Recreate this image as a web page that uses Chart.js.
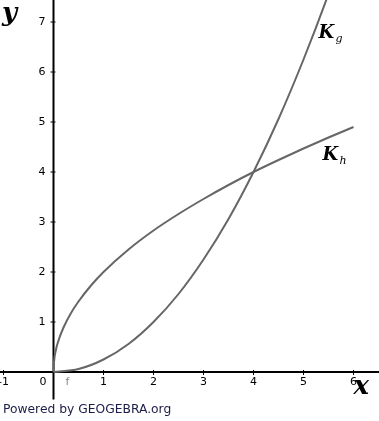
<!DOCTYPE html>
<html>
<head>
<meta charset="utf-8">
<script src="https://cdn.jsdelivr.net/npm/chart.js@4"></script>
<style>
  html, body { margin: 0; padding: 0; background: #fff; }
  canvas { display: block; }
</style>
</head>
<body>
<canvas id="graph" width="379" height="421"></canvas>
<script>
// values
const khX = [0, 0.01, 0.05, 0.1, 0.2, 0.35, 0.5, 0.75, 1, 1.5, 2, 2.5, 3, 3.5, 4, 4.5, 5, 5.5, 6];
const khY = [0, 0.2, 0.45, 0.63, 0.89, 1.18, 1.41, 1.73, 2, 2.45, 2.83, 3.16, 3.46, 3.74, 4, 4.24, 4.47, 4.69, 4.9];
const kgX = [0, 0.5, 1, 1.5, 2, 2.5, 3, 3.5, 4, 4.5, 5, 5.5, 6];
const kgY = [0, 0.06, 0.25, 0.56, 1, 1.56, 2.25, 3.06, 4, 5.06, 6.25, 7.56, 9];
const xTicks = [-1, 1, 2, 3, 4, 5, 6];
const yTicks = [1, 2, 3, 4, 5, 6, 7];

const CURVE = '#666666';

const toPoints = (xs, ys) => xs.map((x, i) => ({ x: x, y: ys[i] }));

// axes through the origin, tick labels and the GeoGebra texts
const axesPlugin = {
  id: 'axes',
  beforeDatasetsDraw(chart) {
    const ctx = chart.ctx;
    const xs = chart.scales.x, ys = chart.scales.y;
    const ox = xs.getPixelForValue(0), oy = ys.getPixelForValue(0);
    const area = chart.chartArea;
    ctx.save();
    ctx.strokeStyle = '#000';
    ctx.lineWidth = 2;
    ctx.beginPath();
    ctx.moveTo(area.left, oy);
    ctx.lineTo(area.right, oy);
    ctx.moveTo(ox, area.top);
    ctx.lineTo(ox, ys.getPixelForValue(-0.55));
    ctx.stroke();

    ctx.lineWidth = 1;
    ctx.fillStyle = '#000';
    ctx.font = '11px "DejaVu Sans", sans-serif';
    ctx.textAlign = 'center';
    ctx.textBaseline = 'top';
    xTicks.forEach(v => {
      const px = xs.getPixelForValue(v);
      ctx.beginPath();
      ctx.moveTo(px, oy - 2);
      ctx.lineTo(px, oy + 3);
      ctx.stroke();
      ctx.fillText(String(v), px, oy + 5);
    });
    ctx.textAlign = 'right';
    ctx.textBaseline = 'middle';
    yTicks.forEach(v => {
      const py = ys.getPixelForValue(v);
      ctx.beginPath();
      ctx.moveTo(ox - 3, py);
      ctx.lineTo(ox + 2, py);
      ctx.stroke();
      ctx.fillText(String(v), ox - 8, py);
    });
    ctx.textBaseline = 'top';
    ctx.fillText('0', ox - 7, oy + 5);

    ctx.textAlign = 'left';
    ctx.fillStyle = '#888';
    ctx.fillText('f', xs.getPixelForValue(0.24), oy + 5);
    ctx.restore();
  },
  afterDatasetsDraw(chart) {
    const ctx = chart.ctx;
    const xs = chart.scales.x, ys = chart.scales.y;
    ctx.save();
    ctx.fillStyle = '#000';
    ctx.textBaseline = 'alphabetic';
    ctx.textAlign = 'left';
    ctx.font = 'bold italic 26px "DejaVu Serif", serif';
    ctx.fillText('y', xs.getPixelForValue(-1.03), ys.getPixelForValue(7.02));
    ctx.fillText('x', xs.getPixelForValue(6.0), ys.getPixelForValue(-0.44));

    ctx.font = 'bold italic 18px "DejaVu Serif", serif';
    ctx.fillText('K', xs.getPixelForValue(5.3), ys.getPixelForValue(6.68));
    ctx.fillText('K', xs.getPixelForValue(5.38), ys.getPixelForValue(4.24));
    ctx.font = 'italic 11px "DejaVu Serif", serif';
    ctx.fillText('g', xs.getPixelForValue(5.64), ys.getPixelForValue(6.6));
    ctx.fillText('h', xs.getPixelForValue(5.72), ys.getPixelForValue(4.16));

    ctx.fillStyle = '#1c1c48';
    ctx.font = '12.3px "DejaVu Sans", sans-serif';
    ctx.fillText('Powered by GEOGEBRA.org', 3, 413);
    ctx.restore();
  }
};

new Chart(document.getElementById('graph').getContext('2d'), {
  type: 'scatter',
  data: {
    datasets: [
      {
        label: 'Kh',
        data: toPoints(khX, khY),
        showLine: true,
        borderColor: CURVE,
        borderWidth: 2,
        pointRadius: 0,
        cubicInterpolationMode: 'monotone'
      },
      {
        label: 'Kg',
        data: toPoints(kgX, kgY),
        showLine: true,
        borderColor: CURVE,
        borderWidth: 2,
        pointRadius: 0,
        cubicInterpolationMode: 'monotone'
      }
    ]
  },
  options: {
    responsive: false,
    animation: false,
    layout: { padding: 0 },
    plugins: {
      legend: { display: false },
      tooltip: { enabled: false }
    },
    scales: {
      x: { type: 'linear', display: false, min: -1.07, max: 6.51 },
      y: { type: 'linear', display: false, min: -0.98, max: 7.44 }
    }
  },
  plugins: [axesPlugin]
});
</script>
</body>
</html>
